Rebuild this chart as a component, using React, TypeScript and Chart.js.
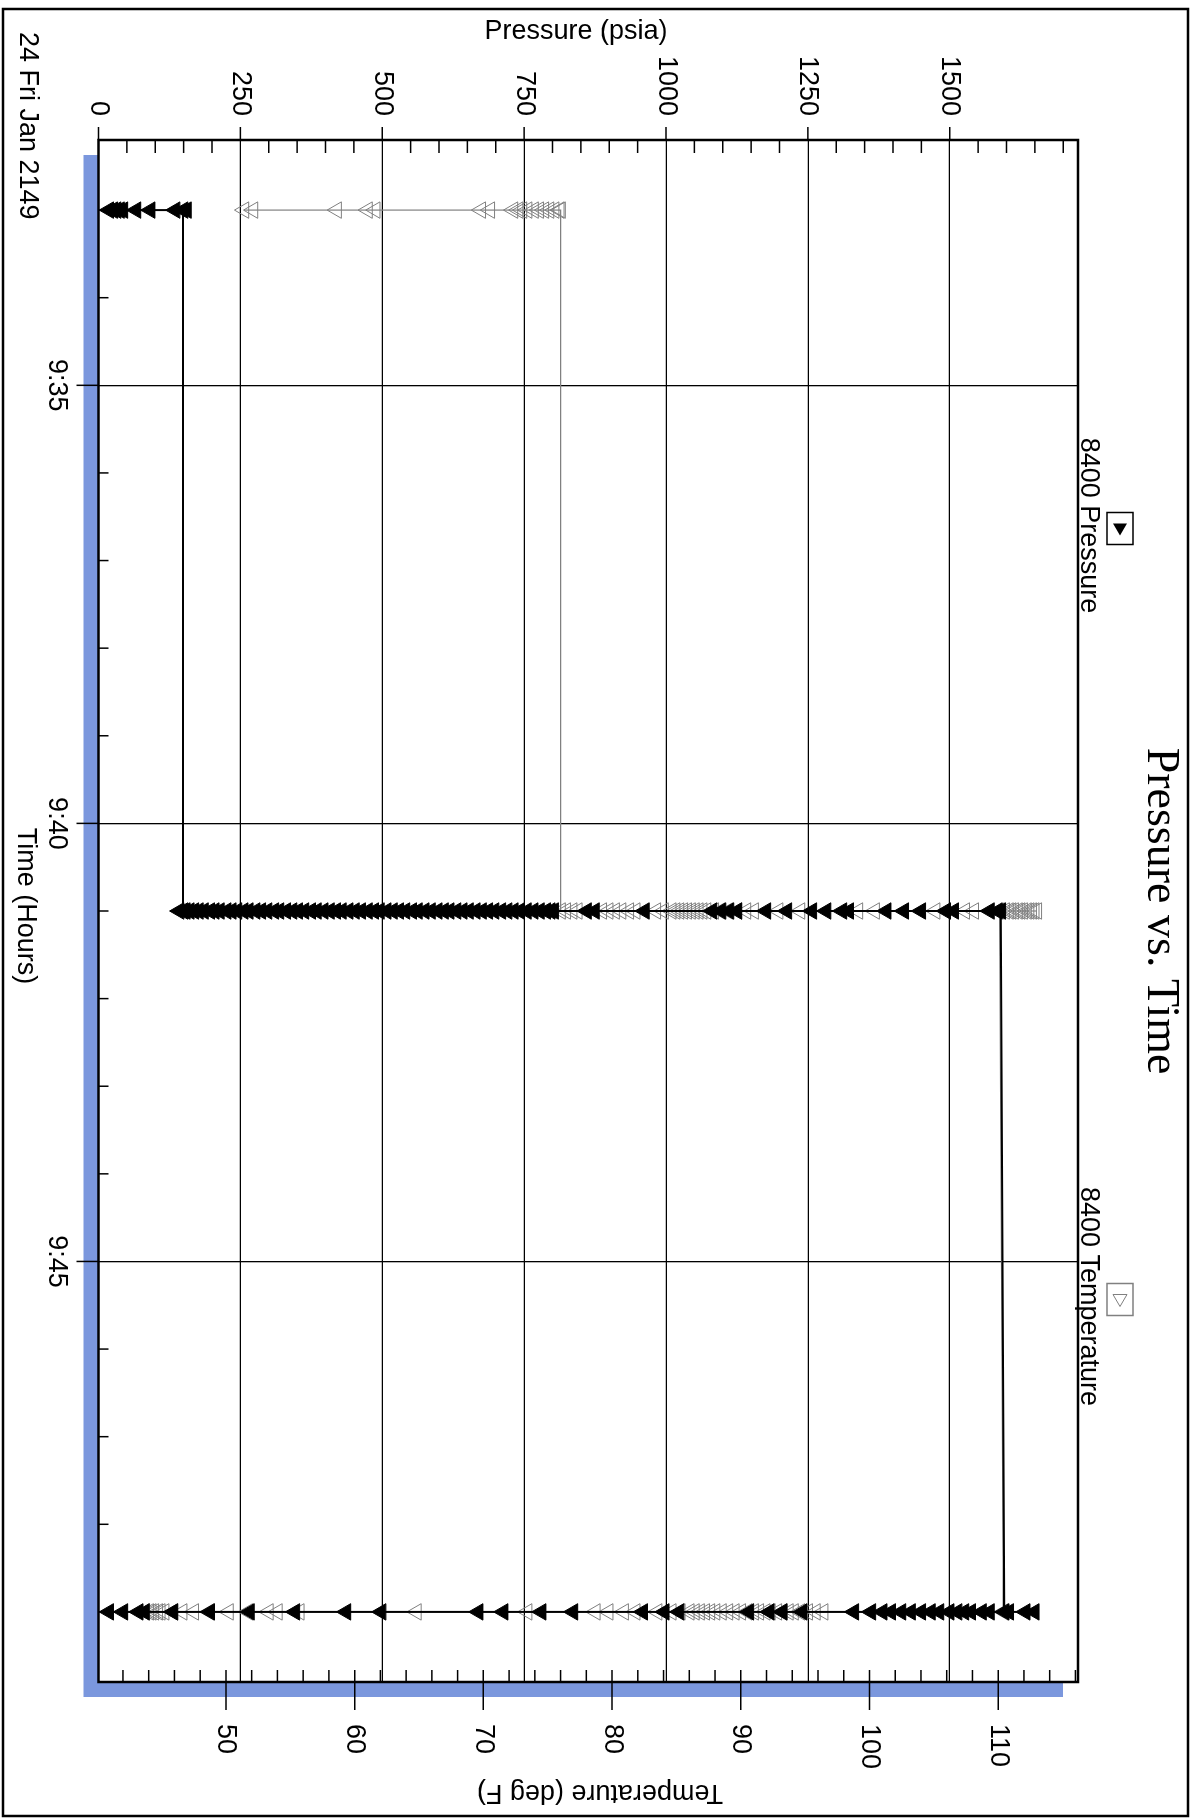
import React, { useEffect, useRef } from 'react';
import { Chart, registerables } from 'chart.js';

Chart.register(...registerables);

// ---------- text ----------
const CHART_TITLE = 'Pressure vs. Time';
const DATE_LABEL = '24 Fri Jan 2149';
const X_TITLE = 'Time (Hours)';
const PRESSURE_TITLE = 'Pressure (psia)';
const TEMP_TITLE = 'Temperature (deg F)';
const SERIES_NAMES = ['8400 Pressure', '8400 Temperature'];

// ---------- axes (time in minutes since midnight) ----------
const TIME_RANGE = [572.2, 589.8];
const TIME_TICK_VALUES = [575, 580, 585];
const TIME_TICK_LABELS = ['9:35', '9:40', '9:45'];
const PRESSURE_RANGE = [0, 1726];
const PRESSURE_TICK_VALUES = [0, 250, 500, 750, 1000, 1250, 1500];
const PRESSURE_TICK_LABELS = ['0', '250', '500', '750', '1000', '1250', '1500'];
const TEMP_RANGE = [40.1, 116.2];
const TEMP_TICK_VALUES = [50, 60, 70, 80, 90, 100, 110];
const TEMP_TICK_LABELS = ['50', '60', '70', '80', '90', '100', '110'];

// ---------- data: three reading bursts (9:33, 9:41, 9:49) ----------
const ROW_TIMES = [573, 581, 589];

const pressureRow1 = [18, 25, 31, 37, 43, 66, 91, 135, 155, 149];
const pressureRow2 = [
  149, 142, 153, 160, 168, 176, 185, 196, 204, 213, 225, 234, 244, 255, 264, 276, 286, 297,
  309, 318, 330, 341, 351, 362, 374, 384, 396, 407, 418, 428, 440, 451, 462, 474, 485, 495,
  507, 518, 529, 540, 552, 562, 574, 585, 597, 608, 618, 630, 641, 652, 664, 675, 686, 697,
  709, 720, 731, 742, 754, 766, 777, 788, 796, 802, 860, 874, 962, 1081, 1097, 1111, 1125,
  1176, 1213, 1257, 1282, 1310, 1322, 1388, 1419, 1449, 1493, 1507, 1570, 1584, 1590,
];
const pressureRow3 = [
  1596, 18, 43, 70, 81, 131, 196, 266, 346, 436, 498, 669, 713, 780, 836, 959, 997, 1023,
  1146, 1182, 1205, 1240, 1331, 1361, 1381, 1396, 1414, 1431, 1449, 1466, 1481, 1499, 1513,
  1525, 1537, 1556, 1570, 1604, 1633, 1649,
];

const temperatureRow1 = [
  51.4, 52.1, 58.6, 61.0, 61.6, 69.8, 70.5, 72.3, 72.7, 73.0, 73.4, 73.9, 74.3, 74.7, 75.1,
  75.5, 75.9, 76.0,
];
const temperatureRow2 = [
  76.0, 76.4, 76.9, 77.3, 79.2, 79.7, 80.2, 80.7, 81.3, 81.8, 83.4, 84.0, 84.6, 84.9, 85.2,
  85.5, 85.8, 86.1, 86.4, 86.7, 87.0, 87.3, 87.9, 88.4, 89.0, 89.7, 90.4, 91.0, 92.9, 94.6,
  99.1, 100.4, 105.1, 107.4, 108.1, 110.5, 110.8, 111.0, 111.2, 111.5, 111.7, 111.9, 112.2,
  112.4, 112.6, 112.8, 113.0, 110.1,
];
const temperatureRow3 = [
  110.4, 43.7, 44.0, 44.2, 44.4, 44.7, 44.9, 45.2, 45.9, 46.6, 47.5, 48.7, 50.2, 51.7, 53.3,
  54.0, 55.7, 64.8, 73.4, 78.7, 79.7, 80.9, 81.8, 83.5, 84.6, 85.3, 86.0, 86.4, 86.8, 87.2,
  87.6, 88.0, 88.5, 89.0, 89.5, 90.0, 90.5, 91.0, 91.4, 91.9, 92.3, 92.8, 93.2, 93.7, 94.1,
  94.6, 95.2, 95.8, 96.4,
];

// ---------- layout / style ----------
const W = 1818;
const H = 1200;
const SANS = '"Liberation Sans", Arial, sans-serif';
const SERIF = '"Liberation Serif", "Times New Roman", serif';
const FS = 27;
const SHADOW = '#7b97dd';
const GRAY = '#808080';

const toPoints = (rows: number[][]) =>
  rows.flatMap((vals, i) => vals.map((v) => ({ x: ROW_TIMES[i], y: v })));

const near = (a: number, b: number) => Math.abs(a - b) < 1e-6;
const labelFor = (values: number[], labels: string[]) => (v: any) => {
  const n = Number(v);
  const i = values.findIndex((t) => near(t, n));
  return i >= 0 ? labels[i] : '';
};
const isMult = (v: number, step: number) => Math.abs(v / step - Math.round(v / step)) < 1e-6;

const decorPlugin = {
  id: 'decor',
  beforeDraw(chart: any) {
    const { ctx, chartArea: a } = chart;
    ctx.save();
    ctx.fillStyle = '#fff';
    ctx.fillRect(0, 0, W, H);
    ctx.fillStyle = SHADOW;
    ctx.fillRect(a.left + 15, a.top + 15, a.right - a.left, a.bottom - a.top);
    ctx.fillStyle = '#fff';
    ctx.fillRect(a.left, a.top, a.right - a.left, a.bottom - a.top);
    ctx.restore();
  },
  afterDraw(chart: any) {
    const { ctx, chartArea: a } = chart;
    const xs = chart.scales.x;
    const yp = chart.scales.y;
    const yt = chart.scales.y1;
    const line = (x1: number, y1: number, x2: number, y2: number) => {
      ctx.beginPath();
      ctx.moveTo(x1, y1);
      ctx.lineTo(x2, y2);
      ctx.stroke();
    };
    ctx.save();
    ctx.strokeStyle = '#000';
    ctx.lineWidth = 1.5;
    // time ticks: minor every minute (inward), major every 5 min (outward)
    for (let m = Math.ceil(TIME_RANGE[0]); m <= TIME_RANGE[1]; m++) {
      const px = xs.getPixelForValue(m);
      if (isMult(m, 5)) line(px, a.bottom, px, a.bottom + 22);
      else line(px, a.bottom, px, a.bottom - 10);
    }
    // pressure ticks every 50
    for (let v = PRESSURE_RANGE[0]; v <= PRESSURE_RANGE[1]; v += 50) {
      const py = yp.getPixelForValue(v);
      if (isMult(v, 250)) line(a.left - 13, py, a.left, py);
      else line(a.left, py, a.left + 13, py);
    }
    // temperature ticks every 2
    for (let v = Math.ceil(TEMP_RANGE[0] / 2) * 2; v <= TEMP_RANGE[1]; v += 2) {
      const py = yt.getPixelForValue(v);
      if (isMult(v, 10)) line(a.right - 12, py, a.right + 28, py);
      else line(a.right - 12, py, a.right, py);
    }
    // plot frame
    ctx.lineWidth = 2.5;
    ctx.strokeRect(a.left, a.top, a.right - a.left, a.bottom - a.top);
    // outer frame
    ctx.strokeRect(9, 12, W - 11, H - 15);

    // title
    ctx.fillStyle = '#000';
    ctx.font = `46px ${SERIF}`;
    ctx.textAlign = 'center';
    ctx.textBaseline = 'alphabetic';
    ctx.fillText(CHART_TITLE, (a.left + a.right) / 2, 52);

    // legend
    const colors = ['#000', GRAY];
    SERIES_NAMES.forEach((name, i) => {
      const cx = a.left + (a.right - a.left) * (i === 0 ? 0.25 : 0.75) + 3;
      ctx.lineWidth = 1.5;
      ctx.strokeStyle = colors[i];
      ctx.strokeRect(cx - 16, 67, 32, 26);
      ctx.beginPath();
      ctx.moveTo(cx - 5, 73);
      ctx.lineTo(cx + 7, 80);
      ctx.lineTo(cx - 5, 87);
      ctx.closePath();
      if (i === 0) {
        ctx.fillStyle = '#000';
        ctx.fill();
      } else {
        ctx.lineWidth = 1;
        ctx.stroke();
      }
      ctx.fillStyle = '#000';
      ctx.font = `${FS}px ${SANS}`;
      ctx.textAlign = 'center';
      ctx.textBaseline = 'alphabetic';
      ctx.fillText(name, cx - 3, 119);
    });

    // axis titles
    ctx.font = `${FS}px ${SANS}`;
    ctx.textBaseline = 'middle';
    ctx.textAlign = 'center';
    ctx.save();
    ctx.translate(32, 624);
    ctx.rotate(-Math.PI / 2);
    ctx.fillText(PRESSURE_TITLE, 0, 0);
    ctx.restore();
    ctx.save();
    ctx.translate(1792, 600);
    ctx.rotate(Math.PI / 2);
    ctx.fillText(TEMP_TITLE, 0, 0);
    ctx.restore();
    ctx.fillText(X_TITLE, 906, 1175);
    ctx.textAlign = 'left';
    ctx.fillText(DATE_LABEL, 32, 1173);
    ctx.restore();
  },
};

export default function App() {
  const ref = useRef<HTMLCanvasElement>(null);
  useEffect(() => {
    const canvas = ref.current;
    if (!canvas) return;
    const tickFont = { family: SANS, size: FS };
    const chart = new Chart(canvas, {
      type: 'line',
      data: {
        datasets: [
          {
            label: SERIES_NAMES[0],
            data: toPoints([pressureRow1, pressureRow2, pressureRow3]),
            yAxisID: 'y',
            borderColor: '#000',
            borderWidth: 2,
            pointStyle: 'triangle',
            rotation: 180,
            pointRadius: 9.5,
            pointBackgroundColor: '#000',
            pointBorderColor: '#000',
            pointBorderWidth: 1,
            tension: 0,
            order: 0,
          },
          {
            label: SERIES_NAMES[1],
            data: toPoints([temperatureRow1, temperatureRow2, temperatureRow3]),
            yAxisID: 'y1',
            borderColor: GRAY,
            borderWidth: 1.2,
            pointStyle: 'triangle',
            rotation: 180,
            pointRadius: 9.5,
            pointBackgroundColor: 'rgba(0,0,0,0)',
            pointBorderColor: GRAY,
            pointBorderWidth: 1,
            tension: 0,
            order: 1,
          },
        ],
      },
      options: {
        responsive: false,
        animation: false,
        devicePixelRatio: 1,
        events: [],
        layout: { padding: { top: 122, left: 0, right: 0, bottom: 0 } },
        plugins: {
          legend: { display: false },
          tooltip: { enabled: false },
          title: { display: false },
        },
        scales: {
          x: {
            type: 'linear',
            position: 'bottom',
            min: TIME_RANGE[0],
            max: TIME_RANGE[1],
            afterFit: (s: any) => {
              s.height = 98.5;
            },
            border: { display: false },
            grid: {
              drawTicks: false,
              lineWidth: 1.3,
              color: (c: any) =>
                c.tick && TIME_TICK_VALUES.some((t) => near(t, c.tick.value)) ? '#000' : 'rgba(0,0,0,0)',
            },
            ticks: {
              stepSize: 1,
              autoSkip: false,
              maxRotation: 0,
              padding: 26,
              color: '#000',
              font: tickFont,
              callback: labelFor(TIME_TICK_VALUES, TIME_TICK_LABELS),
            },
          },
          y: {
            type: 'linear',
            position: 'left',
            min: PRESSURE_RANGE[0],
            max: PRESSURE_RANGE[1],
            afterFit: (s: any) => {
              s.width = 140;
            },
            border: { display: false },
            grid: {
              drawTicks: false,
              lineWidth: 1.3,
              color: (c: any) =>
                c.tick && c.tick.value > 0 && PRESSURE_TICK_VALUES.some((t) => near(t, c.tick.value))
                  ? '#000'
                  : 'rgba(0,0,0,0)',
            },
            ticks: {
              stepSize: 50,
              autoSkip: false,
              padding: 24,
              color: '#000',
              font: tickFont,
              callback: labelFor(PRESSURE_TICK_VALUES, PRESSURE_TICK_LABELS),
            },
          },
          y1: {
            type: 'linear',
            position: 'right',
            min: TEMP_RANGE[0],
            max: TEMP_RANGE[1],
            afterFit: (s: any) => {
              s.width = 136;
            },
            border: { display: false },
            grid: { drawTicks: false, drawOnChartArea: false },
            ticks: {
              stepSize: 2,
              autoSkip: false,
              padding: 42,
              color: '#000',
              font: tickFont,
              callback: labelFor(TEMP_TICK_VALUES, TEMP_TICK_LABELS),
            },
          },
        },
      },
      plugins: [decorPlugin],
    } as any);
    return () => chart.destroy();
  }, []);

  return (
    <div
      style={{
        position: 'absolute',
        left: 0,
        top: 0,
        width: W,
        height: H,
        transformOrigin: '0 0',
        transform: `translate(${H}px, 0) rotate(90deg)`,
        background: '#fff',
      }}
    >
      <canvas ref={ref} width={W} height={H} style={{ display: 'block', width: W, height: H }} />
    </div>
  );
}
